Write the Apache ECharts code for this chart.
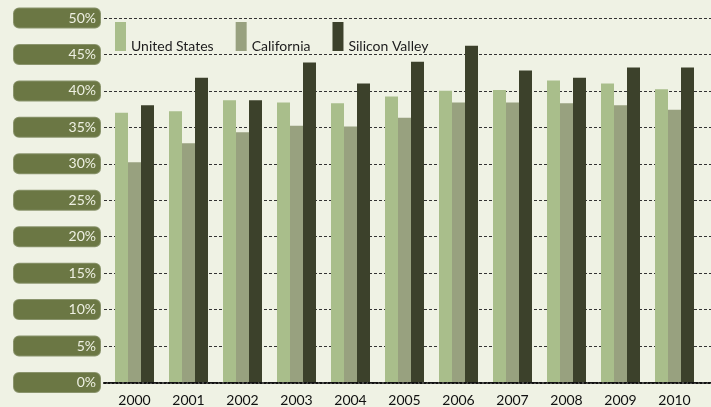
<!DOCTYPE html>
<html>
<head>
<meta charset="utf-8">
<script src="https://cdn.jsdelivr.net/npm/echarts@6/dist/echarts.min.js"></script>
<style>
  html, body { margin: 0; padding: 0; background: #eff2e4; }
  #chart { width: 711px; height: 407px; }
</style>
</head>
<body>
<div id="chart"></div>
<script>
// Share of workforce, by year and region (percent)
const years = ['2000','2001','2002','2003','2004','2005','2006','2007','2008','2009','2010'];
const unitedStates = [37.0, 37.2, 38.7, 38.4, 38.3, 39.2, 40.0, 40.1, 41.4, 41.0, 40.2];
const california   = [30.2, 32.8, 34.3, 35.2, 35.1, 36.3, 38.4, 38.4, 38.3, 38.0, 37.4];
const siliconValley = [38.0, 41.8, 38.7, 43.9, 41.0, 44.0, 46.2, 42.8, 41.8, 43.2, 43.2];
const seriesNames = ['United States', 'California', 'Silicon Valley'];
const seriesColors = ['#a9be8b', '#98a17f', '#3c412b'];

const FONT = 'Lato, "Open Sans", sans-serif';

const chart = echarts.init(document.getElementById('chart'));
chart.setOption({
  backgroundColor: '#eff2e4',
  animation: false,
  legend: {
    left: 115,
    top: 22,
    padding: 0,
    itemWidth: 11,
    itemHeight: 29,
    itemGap: 22,
    icon: 'rect',
    data: seriesNames,
    // text sits at the foot of each tall swatch
    formatter: '{t|{name}}',
    textStyle: {
      fontFamily: FONT, fontSize: 14, color: '#1c1c1c',
      rich: { t: { fontFamily: FONT, fontSize: 14, color: '#1c1c1c', lineHeight: 34, verticalAlign: 'bottom' } }
    }
  },
  grid: [
    // bars
    { left: 107.5, right: 9.5, top: 18, bottom: 24.5, containLabel: false },
    // gridlines and labelled tabs
    { left: 104, right: 0, top: 18, bottom: 24.5, containLabel: false }
  ],
  xAxis: [
    {
      type: 'category', gridIndex: 0, data: years,
      axisLine: { show: false }, axisTick: { show: false },
      axisLabel: { color: '#111', fontFamily: FONT, fontSize: 14, margin: 11 }
    },
    {
      type: 'value', gridIndex: 1, min: 0, max: 1, show: true,
      axisLine: { show: true, lineStyle: { color: '#111', width: 2, type: [2, 2] } },
      axisTick: { show: false }, axisLabel: { show: false }, splitLine: { show: false }
    }
  ],
  yAxis: [
    {
      type: 'value', gridIndex: 0, min: 0, max: 50, interval: 5,
      axisLine: { show: false }, axisTick: { show: false },
      axisLabel: { show: false }, splitLine: { show: false }
    },
    {
      type: 'value', gridIndex: 1, min: 0, max: 50, interval: 5,
      axisLine: { show: false }, axisTick: { show: false },
      splitLine: { show: true, lineStyle: { color: '#333', width: 1, type: [3, 2] } },
      axisLabel: {
        formatter: '{value}%',
        color: '#eef0e2', fontFamily: FONT, fontSize: 14,
        backgroundColor: '#6b7744', borderColor: '#8a946c', borderWidth: 1, borderRadius: 5,
        width: 78, height: 19, lineHeight: 19, align: 'right',
        padding: [0, 4, 0, 4], margin: 4
      }
    }
  ],
  series: [
    { name: seriesNames[0], type: 'bar', xAxisIndex: 0, yAxisIndex: 0, data: unitedStates, barWidth: 13, barGap: '0%', itemStyle: { color: seriesColors[0] }, z: 3 },
    { name: seriesNames[1], type: 'bar', xAxisIndex: 0, yAxisIndex: 0, data: california, barWidth: 13, barGap: '0%', itemStyle: { color: seriesColors[1] }, z: 3 },
    { name: seriesNames[2], type: 'bar', xAxisIndex: 0, yAxisIndex: 0, data: siliconValley, barWidth: 13, barGap: '0%', itemStyle: { color: seriesColors[2] }, z: 3 }
  ]
});
</script>
</body>
</html>
